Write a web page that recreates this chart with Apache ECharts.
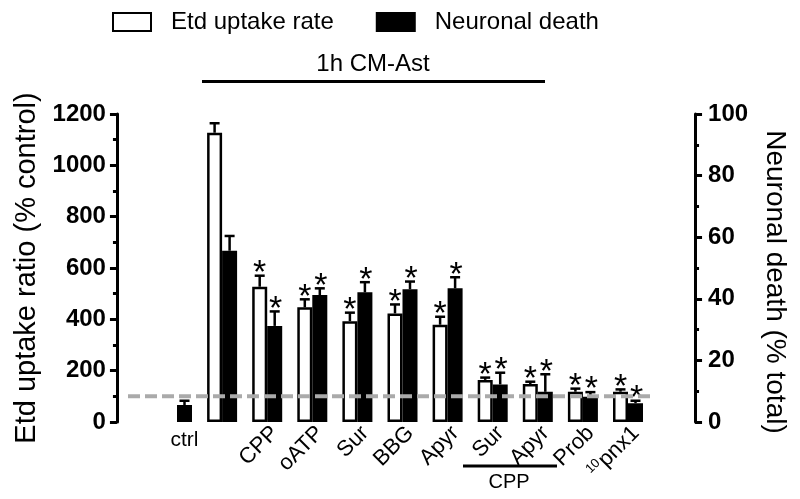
<!DOCTYPE html>
<html><head><meta charset="utf-8">
<script src="https://cdn.jsdelivr.net/npm/echarts@6/dist/echarts.min.js"></script>
<style>html,body{margin:0;padding:0;background:#fff}#c{width:800px;height:499px}</style>
</head><body><div id="c"></div>
<script>
// ---- data ----
const categories = ['ctrl','CM-Ast','CPP','oATP','Sur','BBG','Apyr','Sur+CPP','Apyr+CPP','Prob','10pnx1'];
const tickLabels = ['ctrl','','CPP','oATP','Sur','BBG','Apyr','Sur','Apyr','Prob','10pnx1'];
const uptake    = [null,1127,527,447,393,423,379,164,148,118,118];
const uptakeErr = [null,  37, 43, 31, 33, 35, 31,  9,  9, 12,  9];
const death     = [5.5,55.6,31.2,41.2,42.1,43.1,43.4,12.2,9.8,8.2,6.1];
const deathErr  = [1.4, 4.8, 4.7, 2.2, 3.3, 2.5, 3.6, 3.8,5.7,1.5,0.8];
const uptakeSig = [0,0,1,1,1,1,1,1,1,1,1];
const deathSig  = [0,0,1,1,1,1,1,1,1,1,1];
const baselineLevel = [100, 100];
const seriesNames = ['Etd uptake rate','Neuronal death'];
const groupLabel = '1h CM-Ast';
const subGroupLabel = 'CPP';

// ---- style ----
const FONT = '"Liberation Sans", Arial, Helvetica, sans-serif';
const BAR_W = 15;

const chart = echarts.init(document.getElementById('c'));

function errSeries(vals, errs, sig, side, yIdx) {
  return {
    type: 'custom', xAxisIndex: 0, yAxisIndex: yIdx, z: 5, silent: true,
    data: categories.map((c, i) => [i, vals[i] == null ? 0 : vals[i]]),
    renderItem(params, api) {
      const i = params.dataIndex;
      const v = vals[i];
      if (v == null) return null;
      const e = errs[i];
      const base = api.coord([i, v]);
      const top = api.coord([i, v + e]);
      const x = base[0] + side * BAR_W / 2;
      const children = [
        {type: 'line', shape: {x1: x, y1: base[1], x2: x, y2: top[1]}, style: {stroke: '#000', lineWidth: 2.5}},
        {type: 'line', shape: {x1: x - 5, y1: top[1], x2: x + 5, y2: top[1]}, style: {stroke: '#000', lineWidth: 2.5}}
      ];
      if (sig[i]) {
        children.push({type: 'text', x: x + (side > 0 ? 1 : 0), y: top[1] - 2,
          style: {text: '*', align: 'center', verticalAlign: 'middle', fontSize: 34, fontFamily: FONT, fill: '#000'}});
      }
      return {type: 'group', children};
    }
  };
}

const option = {
  animation: false,
  backgroundColor: '#fff',
  legend: {
    left: 107, top: 5, itemWidth: 38, itemHeight: 18, itemGap: 42,
    data: seriesNames, icon: 'rect',
    textStyle: {fontSize: 24, color: '#000', fontFamily: FONT, padding: [0, 0, 0, 15]}
  },
  grid: [
    {left: 154.45, right: 800 - 650.55, top: 114, bottom: 77, containLabel: false},
    {left: 128, right: 800 - 650.55, top: 114, bottom: 77, containLabel: false}
  ],
  xAxis: [
    {type: 'category', gridIndex: 0, data: categories,
     axisLine: {show: false}, axisTick: {show: false}, splitLine: {show: false},
     axisLabel: {interval: 0, rotate: 45, margin: 0, verticalAlign: 'top', fontSize: 22, color: '#000', fontFamily: FONT,
       formatter: (v, i) => {
         const t = tickLabels[i];
         if (i === 0) return '';
         if (t.startsWith('10')) return '{sup|10}{b|' + t.slice(2) + '}';
         return t;
       },
       rich: {
         sup: {fontSize: 13, verticalAlign: 'top', color: '#000', fontFamily: FONT, padding: [0, 1, 0, 0]},
         b: {fontSize: 22, color: '#000', fontFamily: FONT}
       }}},
    {type: 'value', gridIndex: 1, min: 0, max: 1, show: false}
  ],
  yAxis: [
    {type: 'value', gridIndex: 0, position: 'left', offset: 37.5, min: 0, max: 1200, interval: 200,
     axisLine: {show: true, lineStyle: {color: '#000', width: 3}},
     axisTick: {show: true, length: 7, lineStyle: {color: '#000', width: 3}},
     minorTick: {show: true, splitNumber: 2, length: 4, lineStyle: {color: '#000', width: 3}},
     splitLine: {show: false},
     axisLabel: {fontSize: 24, fontWeight: 'bold', color: '#000', margin: 11, fontFamily: FONT, formatter: v => String(v)},
     name: 'Etd uptake ratio (% control)', nameLocation: 'middle', nameGap: 72, nameRotate: 90,
     nameTextStyle: {fontSize: 29, color: '#000', fontFamily: FONT}},
    {type: 'value', gridIndex: 0, position: 'right', offset: 44.5, min: 0, max: 100, interval: 20,
     axisLine: {show: true, lineStyle: {color: '#000', width: 3}},
     axisTick: {show: true, length: 7, lineStyle: {color: '#000', width: 3}},
     minorTick: {show: true, splitNumber: 2, length: 4, lineStyle: {color: '#000', width: 3}},
     splitLine: {show: false},
     axisLabel: {fontSize: 24, fontWeight: 'bold', color: '#000', margin: 13, fontFamily: FONT, formatter: v => String(v)},
     name: 'Neuronal death (% total)', nameLocation: 'middle', nameGap: 66, nameRotate: -90,
     nameTextStyle: {fontSize: 28, color: '#000', fontFamily: FONT, padding: [0, 0, 0, 28]}},
    {type: 'value', gridIndex: 1, min: 0, max: 1200, show: false}
  ],
  series: [
    {name: seriesNames[0], type: 'bar', xAxisIndex: 0, yAxisIndex: 0, barWidth: BAR_W, barGap: '0%',
     data: uptake,
     itemStyle: {color: '#fff', borderColor: '#000', borderWidth: 2.5}},
    {name: seriesNames[1], type: 'bar', xAxisIndex: 0, yAxisIndex: 1, barWidth: BAR_W, barGap: '0%',
     data: death.map((v, i) => i === 0 ? {value: v, label: {show: true, position: 'bottom', distance: 8,
        formatter: tickLabels[0], fontSize: 21, color: '#000', fontFamily: FONT}} : v),
     itemStyle: {color: '#000', borderColor: '#000', borderWidth: 2}},
    errSeries(uptake, uptakeErr, uptakeSig, -1, 0),
    errSeries(death, deathErr, deathSig, 1, 1),
    {type: 'line', xAxisIndex: 1, yAxisIndex: 2, z: 10, silent: true, symbol: 'none',
     data: [[0, baselineLevel[0]], [1, baselineLevel[1]]],
     lineStyle: {color: '#aaaaaa', width: 4, type: [12, 5]}}
  ],
  graphic: [
    {type: 'line', shape: {x1: 202, y1: 81.5, x2: 545, y2: 81.5}, style: {stroke: '#000', lineWidth: 3}},
    {type: 'text', x: 373, y: 64, style: {text: groupLabel, align: 'center', verticalAlign: 'middle', fontSize: 24, fontFamily: FONT, fill: '#000'}},
    {type: 'line', shape: {x1: 463, y1: 466, x2: 557, y2: 466}, style: {stroke: '#000', lineWidth: 3}},
    {type: 'text', x: 509, y: 482, style: {text: subGroupLabel, align: 'center', verticalAlign: 'middle', fontSize: 20, fontFamily: FONT, fill: '#000'}}
  ]
};
chart.setOption(option);
</script>
</body></html>
